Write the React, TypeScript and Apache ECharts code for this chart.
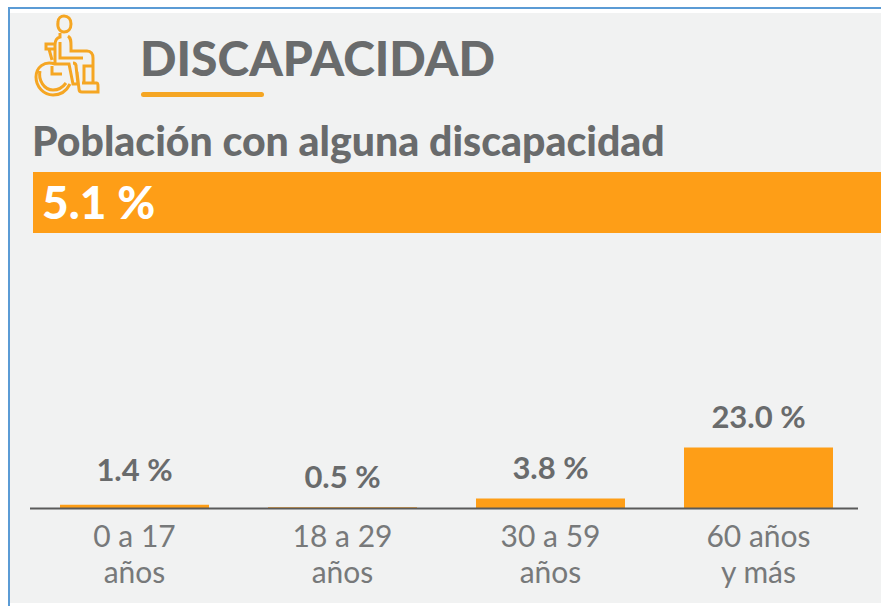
import React, { useEffect, useRef } from "react";
import * as echarts from "echarts";

const titleText = "DISCAPACIDAD";
const subtitleText = "Población con alguna discapacidad";
const totalCategories = ["Total"];
const totalValues = [5.1];
const ageCategories = ["0 a 17\naños", "18 a 29\naños", "30 a 59\naños", "60 años\ny más"];
const ageValues = [1.4, 0.5, 3.8, 23.0];
const labelOffsets = [-4, 0, 0, 0];

const ORANGE = "#fe9e17";
const GREY = "#696b6c";
const FONT = "Lato";

const iconPath =
  "M58 22C58 18 61 16 64 16C68 16 71 19 71 24C71 29 68 32 64 32C60 32 57 28 58 22Z " +
  "M60 33V37C56 38 55 41 55 45V64H69L73 84H78L76 66C76 64 75 63 73 63 " +
  "M68 36C71 38 71 41 71 46V51H87C91 51 93 54 93 58V83H97C98 83 98 85 98 88V92H82C80 92 79 91 79 89L77 72 " +
  "M60 42V58H83 M93 66H84V83 M55 44H46V49H55 M49 49L52 60 " +
  "M55 64C44 60 36 68 36 77C36 87 44 95 53 95C61 95 67 90 70 84 " +
  "M40 71C38 80 44 90 53 90C59 90 63 87 66 83 M52 66V74H62 M82 83H93";

echarts.graphic.registerShape("wheelchairIcon", echarts.graphic.extendPath(iconPath, {}) as any);

export default function App() {
  const ref = useRef<HTMLDivElement>(null);
  useEffect(() => {
    const chart = echarts.init(ref.current!, undefined, { renderer: "svg" });
    chart.setOption({
      animation: false,
      backgroundColor: "#ffffff",
      grid: [
        { left: 33, top: 172, width: 848, height: 61 },
        { left: 30.5, width: 832, top: 360, height: 148.5 },
      ],
      xAxis: [
        { gridIndex: 0, type: "value", min: 0, max: 5.1, show: false },
        {
          gridIndex: 1,
          type: "category",
          data: ageCategories,
          axisLine: { show: false },
          axisTick: { show: false },
          axisLabel: {
            interval: 0,
            margin: 8,
            color: "#77797a",
            fontFamily: FONT,
            fontSize: 30,
            lineHeight: 36,
          },
        },
      ],
      yAxis: [
        { gridIndex: 0, type: "category", data: totalCategories, show: false },
        { gridIndex: 1, type: "value", min: 0, max: 56, show: false },
      ],
      series: [
        {
          type: "bar",
          xAxisIndex: 0,
          yAxisIndex: 0,
          data: totalValues,
          barWidth: 61,
          itemStyle: { color: ORANGE },
          label: {
            show: true,
            position: "insideLeft",
            distance: 9,
            offset: [0, -1],
            formatter: (p: any) => `${p.value.toFixed(1)} %`,
            color: "#ffffff",
            fontFamily: FONT,
            fontWeight: 900,
            fontSize: 46,
          },
        },
        {
          type: "bar",
          xAxisIndex: 1,
          yAxisIndex: 1,
          barWidth: 149,
          data: ageValues.map((v, i) => ({
            value: v,
            label: { offset: [0, labelOffsets[i]] },
          })),
          itemStyle: { color: ORANGE },
          label: {
            show: true,
            position: "top",
            distance: 16,
            formatter: (p: any) => `${p.value.toFixed(1)} %`,
            color: GREY,
            fontFamily: FONT,
            fontWeight: "bold",
            fontSize: 31,
          },
        },
      ],
      graphic: [
        { type: "rect", z: -10, shape: { x: 10, y: 13, width: 871, height: 590 }, style: { fill: "#f1f2f2" } },
        { type: "rect", z: -9, shape: { x: 8, y: 7, width: 873, height: 2 }, style: { fill: "#5b9bd5" } },
        { type: "rect", z: -9, shape: { x: 8, y: 7, width: 2, height: 599 }, style: { fill: "#5b9bd5" } },
        { type: "wheelchairIcon", x: 0, y: 0, style: { fill: "none", stroke: "#f5a623", lineWidth: 3 } },
        {
          type: "text",
          x: 140,
          y: 57,
          style: {
            text: titleText,
            fill: GREY,
            font: `900 48px ${FONT}`,
            textVerticalAlign: "middle",
          },
        },
        { type: "rect", shape: { x: 141, y: 92, width: 123, height: 5, r: 2.5 }, style: { fill: "#f5a623" } },
        {
          type: "text",
          x: 32,
          y: 140,
          style: {
            text: subtitleText,
            fill: GREY,
            font: `900 41px ${FONT}`,
            textVerticalAlign: "middle",
          },
        },
        { type: "rect", z: 50, shape: { x: 30, y: 507.5, width: 828, height: 2 }, style: { fill: "#5a5a5a" } },
      ],
    });
    return () => chart.dispose();
  }, []);
  return <div ref={ref} style={{ position: "absolute", left: 0, top: 0, width: 881, height: 606 }} />;
}
